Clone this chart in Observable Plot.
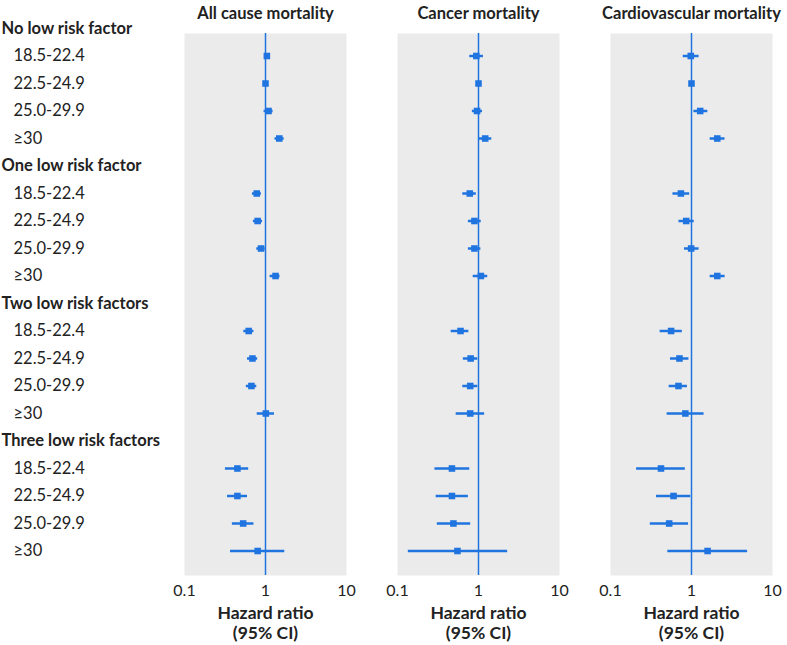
<!DOCTYPE html>
<html>
<head>
<meta charset="utf-8">
<script src="https://cdn.jsdelivr.net/npm/d3@7"></script>
<script src="https://cdn.jsdelivr.net/npm/@observablehq/plot@0.6"></script>
<style>
  html, body { margin: 0; padding: 0; background: #fff; }
  #chart { width: 787px; height: 645px; }
</style>
</head>
<body>
<div id="chart"></div>
<script>
const outcomes = ["All cause mortality", "Cancer mortality", "Cardiovascular mortality"];
const groups = ["No low risk factor", "One low risk factor", "Two low risk factors", "Three low risk factors"];
const bmiBands = ["18.5-22.4", "22.5-24.9", "25.0-29.9", "≥30"];
const xTicks = [0.1, 1, 10];
const axisTitle1 = "Hazard ratio";
const axisTitle2 = "(95% CI)";

// Hazard ratios (order: group × BMI band)
const allHR = [1.04, 1.00, 1.09, 1.48, 0.78, 0.80, 0.88, 1.33, 0.62, 0.69, 0.67, 1.01, 0.45, 0.45, 0.53, 0.80];
const allLo = [0.97, 1.00, 0.96, 1.31, 0.69, 0.71, 0.78, 1.14, 0.54, 0.60, 0.58, 0.79, 0.32, 0.34, 0.39, 0.37];
const allHi = [1.12, 1.00, 1.24, 1.70, 0.89, 0.92, 0.99, 1.51, 0.72, 0.80, 0.78, 1.29, 0.62, 0.60, 0.72, 1.73];

const cancerHR = [0.94, 1.00, 0.96, 1.21, 0.78, 0.89, 0.89, 1.07, 0.60, 0.80, 0.79, 0.79, 0.47, 0.47, 0.49, 0.55];
const cancerLo = [0.78, 1.00, 0.84, 1.02, 0.64, 0.75, 0.75, 0.86, 0.46, 0.65, 0.64, 0.53, 0.29, 0.30, 0.31, 0.136];
const cancerHi = [1.15, 1.00, 1.12, 1.46, 0.94, 1.08, 1.07, 1.30, 0.76, 0.98, 0.98, 1.19, 0.78, 0.75, 0.80, 2.29];

const cvdHR = [0.98, 1.00, 1.28, 2.08, 0.74, 0.86, 0.99, 2.08, 0.56, 0.71, 0.69, 0.84, 0.42, 0.60, 0.53, 1.58];
const cvdLo = [0.79, 1.00, 1.07, 1.70, 0.59, 0.70, 0.82, 1.70, 0.41, 0.55, 0.53, 0.50, 0.21, 0.37, 0.31, 0.51];
const cvdHi = [1.24, 1.00, 1.59, 2.59, 0.95, 1.08, 1.24, 2.60, 0.77, 0.93, 0.89, 1.43, 0.84, 0.98, 0.92, 4.93];

const series = [
  [allHR, allLo, allHi],
  [cancerHR, cancerLo, cancerHi],
  [cvdHR, cvdLo, cvdHi]
];

const blue = "#1f74e0";
const ink = "#222";

const data = [];
outcomes.forEach((o, k) => {
  const [hr, lo, hi] = series[k];
  hr.forEach((v, i) => {
    const g = Math.floor(i / 4), b = i % 4;
    data.push({outcome: o, row: g * 5 + b + 1, hr: v, lo: lo[i], hi: hi[i]});
  });
});

const labels = [];
groups.forEach((g, gi) => {
  labels.push({row: gi * 5, text: g, heading: true});
  bmiBands.forEach((b, bi) => labels.push({row: gi * 5 + bi + 1, text: b, heading: false}));
});

const chart = Plot.plot({
  width: 787,
  height: 645,
  marginTop: 33,
  marginBottom: 70,
  marginLeft: 183,
  marginRight: 13,
  style: {fontFamily: "Lato", fontSize: "16px", color: ink, background: "#fff"},
  fx: {domain: outcomes, paddingInner: 0.2383, paddingOuter: 0, axis: null, label: null},
  x: {type: "log", domain: [0.1, 10], axis: null},
  y: {domain: [0.1818, 19.891], reverse: true, axis: null},
  marks: [
    Plot.frame({fill: "#ebebeb", stroke: null}),
    Plot.ruleX([1], {stroke: blue, strokeWidth: 1.5}),
    Plot.ruleY(data, {fx: "outcome", y: "row", x1: "lo", x2: "hi", stroke: blue, strokeWidth: 2.5}),
    Plot.dot(data, {fx: "outcome", x: "hr", y: "row", symbol: "square", r: 3.7, fill: blue, stroke: null}),
    Plot.axisX({ticks: xTicks, tickFormat: d => String(d), tickSize: 0, tickPadding: 9, fontSize: 16, label: null, fill: ink}),
    Plot.text(outcomes, {fx: d => d, text: d => d, frameAnchor: "top", dy: -26, fontWeight: "bold", fontSize: 16.5, fill: ink}),
    Plot.text(outcomes, {fx: d => d, text: () => axisTitle1, frameAnchor: "bottom", dy: 43, fontWeight: "bold", fontSize: 17.5, fill: ink}),
    Plot.text(outcomes, {fx: d => d, text: () => axisTitle2, frameAnchor: "bottom", dy: 63, fontWeight: "bold", fontSize: 17.5, fill: ink}),
    Plot.text(labels.filter(d => d.heading), {fx: () => outcomes[0], y: "row", text: "text", frameAnchor: "left", textAnchor: "start", dx: -183, fontWeight: "bold", fontSize: 16.5, fill: ink}),
    Plot.text(labels.filter(d => !d.heading), {fx: () => outcomes[0], y: "row", text: "text", frameAnchor: "left", textAnchor: "start", dx: -171, fontSize: 16.5, fill: ink})
  ]
});

document.getElementById("chart").appendChild(chart);
</script>
</body>
</html>
